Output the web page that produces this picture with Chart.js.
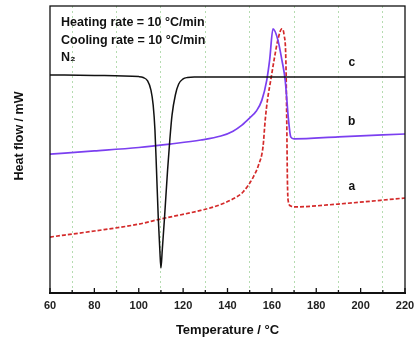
<!DOCTYPE html>
<html>
<head>
<meta charset="utf-8">
<script src="https://cdn.jsdelivr.net/npm/chart.js@4/dist/chart.umd.min.js"></script>
<style>
  html, body { margin: 0; padding: 0; background: #fff; }
  #wrap { width: 414px; height: 340px; }
</style>
</head>
<body>
<div id="wrap"><canvas id="dsc"></canvas></div>
<script>
// curve c (cooling, black)
const cTemp = [60, 80, 100, 102, 104, 105.5, 106.5, 107.3, 108, 108.8, 109.5, 110, 110.6, 111.6, 113, 114, 115, 116.5, 118, 120, 122, 125, 220];
const cFlow = [76.0, 75.8, 75.4, 75.1, 73.9, 70.7, 65.5, 56.8, 42.9, 26.1, 15.0, 8.7, 15.0, 26.1, 42.9, 53.3, 62.0, 69.0, 72.8, 74.6, 75.1, 75.3, 75.3];

// curve b (purple)
const bTemp = [60, 80, 100, 114, 128, 137, 142.5, 146.5, 150, 153, 155.5, 157.7, 159, 160.5, 162.7, 164.5, 166, 167.5, 168.5, 170, 190, 220];
const bFlow = [48.4, 49.5, 50.7, 51.9, 53.3, 54.7, 56.4, 58.5, 61.0, 63.4, 67.2, 74.2, 81.2, 92.0, 88.2, 81.2, 74.2, 60.3, 54.4, 53.7, 54.4, 55.4];

// curve a (red, dashed)
const aTemp = [60, 80, 100, 110, 127, 135, 142.5, 147, 151.6, 154, 156, 157, 158, 159.5, 161, 162.7, 164.5, 165.5, 166.3, 166.7, 167, 167.3, 168.5, 170, 190, 220];
const aFlow = [19.5, 21.6, 24.0, 25.8, 28.6, 30.3, 32.8, 35.2, 40.4, 44.6, 50.9, 60.3, 67.2, 74.2, 81.2, 88.2, 92.0, 89.9, 81.2, 60.3, 39.4, 32.4, 30.3, 30.0, 31.0, 33.1];

const xTicks = [60, 80, 100, 120, 140, 160, 180, 200, 220];

const curveLabels = [
  { text: 'c', x: 196, y: 80.4 },
  { text: 'b', x: 196, y: 59.6 },
  { text: 'a', x: 196, y: 36.9 }
];
const notes = [
  { text: 'Heating rate = 10 °C/min', x: 65, y: 94.2 },
  { text: 'Cooling rate = 10 °C/min', x: 65, y: 88.0 },
  { text: 'N\u2082', x: 65, y: 82.0 }
];
const yTitle = 'Heat flow / mW';

const pts = (xs, ys) => xs.map((x, i) => ({ x, y: ys[i] }));
const FONT = '"Liberation Sans", Arial, sans-serif';

const frame = {
  id: 'frame',
  afterDatasetsDraw(chart) {
    const { ctx, chartArea: a, scales } = chart;
    ctx.save();
    ctx.strokeStyle = '#111';
    ctx.lineWidth = 1.3;
    ctx.strokeRect(a.left, a.top, a.right - a.left, a.bottom - a.top);
    ctx.lineWidth = 2;
    ctx.beginPath();
    ctx.moveTo(a.left - 1, a.bottom);
    ctx.lineTo(a.right + 1, a.bottom);
    ctx.stroke();
    // inward ticks
    ctx.lineWidth = 1.3;
    for (let v = 60; v <= 220; v += 10) {
      const px = scales.x.getPixelForValue(v);
      const len = v % 20 === 0 ? 5 : 3;
      ctx.beginPath();
      ctx.moveTo(px, a.bottom);
      ctx.lineTo(px, a.bottom - len);
      ctx.stroke();
    }
    ctx.fillStyle = '#111';
    ctx.textBaseline = 'middle';
    ctx.textAlign = 'center';
    ctx.font = 'bold 12px ' + FONT;
    curveLabels.forEach(l => {
      ctx.fillText(l.text, scales.x.getPixelForValue(l.x), scales.y.getPixelForValue(l.y));
    });
    ctx.textAlign = 'left';
    ctx.font = 'bold 12.5px ' + FONT;
    notes.forEach(n => {
      ctx.fillText(n.text, scales.x.getPixelForValue(n.x), scales.y.getPixelForValue(n.y));
    });
    // y axis title
    ctx.translate(20, 136);
    ctx.rotate(-Math.PI / 2);
    ctx.textAlign = 'center';
    ctx.font = 'bold 12.5px ' + FONT;
    ctx.fillText(yTitle, 0, 0);
    ctx.restore();
  }
};

new Chart(document.getElementById('dsc'), {
  type: 'line',
  data: {
    datasets: [
      { label: 'c', data: pts(cTemp, cFlow), borderColor: '#111', borderWidth: 1.5 },
      { label: 'b', data: pts(bTemp, bFlow), borderColor: '#7b3ff0', borderWidth: 1.7 },
      { label: 'a', data: pts(aTemp, aFlow), borderColor: '#d42a2a', borderWidth: 1.7, borderDash: [4, 2] }
    ]
  },
  options: {
    responsive: true,
    maintainAspectRatio: false,
    animation: false,
    layout: { padding: { top: 6, right: 9, left: 0, bottom: 0 } },
    elements: {
      point: { radius: 0 },
      line: { cubicInterpolationMode: 'monotone', fill: false }
    },
    plugins: { legend: { display: false }, tooltip: { enabled: false } },
    scales: {
      x: {
        type: 'linear',
        min: 60,
        max: 220,
        afterFit: s => { s.height = 47; s.paddingLeft = 0; s.paddingRight = 0; },
        afterBuildTicks: s => {
          const t = [];
          for (let v = 60; v <= 220; v += 10) t.push({ value: v });
          s.ticks = t;
        },
        ticks: {
          autoSkip: false,
          maxRotation: 0,
          padding: 6,
          color: '#222',
          font: { family: FONT, size: 11, weight: 'bold' },
          callback: v => xTicks.includes(v) ? String(v) : ''
        },
        grid: {
          drawTicks: false,
          color: c => (c.tick && c.tick.value % 20 === 10) ? '#b5dcb0' : 'rgba(0,0,0,0)',
          lineWidth: 1
        },
        border: { display: false, dash: [2, 3] },
        title: {
          display: true,
          text: 'Temperature / °C',
          color: '#111',
          padding: { top: 0, bottom: 2 },
          font: { family: FONT, size: 13, weight: 'bold' }
        }
      },
      y: {
        min: 0,
        max: 100,
        afterFit: s => { s.width = 50; },
        ticks: { display: false },
        grid: { display: false },
        border: { display: false }
      }
    }
  },
  plugins: [frame]
});
</script>
</body>
</html>
